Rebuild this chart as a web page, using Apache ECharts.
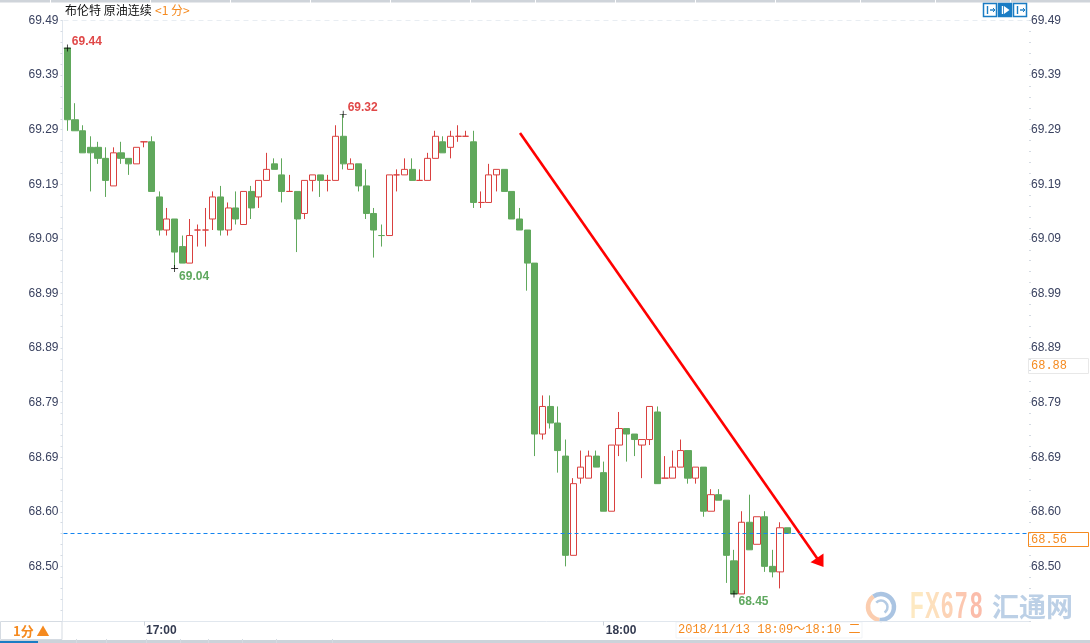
<!DOCTYPE html>
<html><head><meta charset="utf-8">
<style>html,body{margin:0;padding:0;background:#fff}#c{width:1090px;height:643px}</style>
<script src="https://cdn.jsdelivr.net/npm/echarts@6/dist/echarts.min.js"></script>
</head><body><div id="c"></div>
<script>
const opens=[69.44,69.31,69.29,69.26,69.26,69.24,69.19,69.25,69.24,69.23,69.27,69.27,69.17,69.11,69.13,69.08,69.05,69.11,69.11,69.13,69.17,69.11,69.15,69.12,69.18,69.17,69.20,69.23,69.21,69.18,69.18,69.14,69.20,69.21,69.20,69.20,69.28,69.22,69.23,69.19,69.14,69.10,69.10,69.21,69.21,69.22,69.20,69.20,69.24,69.27,69.26,69.28,69.28,69.27,69.16,69.16,69.21,69.22,69.18,69.13,69.11,69.05,68.74,68.79,68.76,68.70,68.52,68.66,68.66,68.70,68.67,68.60,68.72,68.75,68.74,68.72,68.73,68.78,68.66,68.66,68.68,68.71,68.66,68.68,68.60,68.63,68.62,68.51,68.45,68.58,68.54,68.59,68.50,68.49,68.57];
const closes=[69.31,69.29,69.25,69.25,69.24,69.20,69.25,69.24,69.23,69.26,69.27,69.18,69.11,69.13,69.07,69.05,69.10,69.11,69.11,69.17,69.11,69.15,69.13,69.18,69.15,69.20,69.22,69.22,69.18,69.18,69.13,69.20,69.21,69.20,69.20,69.28,69.23,69.23,69.19,69.14,69.11,69.10,69.21,69.21,69.22,69.20,69.20,69.24,69.28,69.25,69.28,69.28,69.28,69.16,69.16,69.21,69.22,69.18,69.13,69.11,69.05,68.74,68.79,68.76,68.71,68.52,68.65,68.68,68.70,68.68,68.60,68.72,68.75,68.74,68.73,68.73,68.79,68.65,68.66,68.68,68.71,68.66,68.68,68.60,68.63,68.62,68.52,68.45,68.58,68.53,68.59,68.50,68.49,68.57,68.56];
const lows=[69.29,69.29,69.25,69.18,69.23,69.17,69.19,69.23,69.21,69.23,69.26,69.18,69.10,69.10,69.04,69.05,69.05,69.08,69.08,69.11,69.10,69.10,69.12,69.12,69.13,69.15,69.20,69.22,69.16,69.18,69.07,69.13,69.18,69.17,69.18,69.20,69.22,69.22,69.18,69.13,69.06,69.08,69.10,69.18,69.21,69.20,69.20,69.20,69.24,69.25,69.24,69.27,69.28,69.15,69.15,69.16,69.18,69.18,69.13,69.11,69.00,68.70,68.73,68.75,68.67,68.50,68.52,68.65,68.66,68.68,68.60,68.60,68.70,68.69,68.70,68.66,68.72,68.65,68.66,68.66,68.68,68.65,68.65,68.59,68.60,68.62,68.47,68.45,68.45,68.53,68.54,68.49,68.48,68.46,68.56];
const highs=[69.44,69.34,69.30,69.28,69.27,69.26,69.26,69.27,69.24,69.26,69.27,69.28,69.18,69.15,69.13,69.10,69.13,69.12,69.15,69.18,69.19,69.16,69.18,69.18,69.19,69.20,69.25,69.24,69.24,69.21,69.18,69.20,69.21,69.21,69.21,69.30,69.32,69.24,69.23,69.22,69.15,69.12,69.21,69.22,69.24,69.24,69.22,69.25,69.29,69.28,69.29,69.30,69.29,69.29,69.18,69.23,69.22,69.22,69.18,69.15,69.11,69.05,68.81,68.81,68.79,68.73,68.66,68.71,68.71,68.71,68.69,68.72,68.78,68.75,68.74,68.73,68.79,68.79,68.70,68.71,68.73,68.71,68.68,68.68,68.64,68.64,68.62,68.53,68.60,68.63,68.59,68.60,68.53,68.58,68.57];

const timeLabels=['17:00','18:00'];
const timeIndex=[10,70];
const categoryCount=126;
const categories=Array.from({length:categoryCount},(_,i)=>{const k=timeIndex.indexOf(i);return k>=0?timeLabels[k]:String(i);});

const yTickValues=[69.49,69.391,69.292,69.193,69.094,68.995,68.896,68.797,68.698,68.599,68.50];
const yTickLabels=['69.49','69.39','69.29','69.19','69.09','68.99','68.89','68.79','68.69','68.60','68.50'];

const extremeIndex=[0,36,14,87];
const extremeValue=[69.44,69.32,69.04,68.45];
const extremeLabel=['69.44','69.32','69.04','68.45'];
const lastPrice=68.56, lastLabel='68.56';
const markedPrice=68.863, markedLabel='68.88';
const chartTitle='布伦特 原油连续', chartPeriod='<1 分>', periodTab='1分 ▲', rangeText='2018/11/13 18:09～18:10 二';

const RED='#d9403f',GREEN='#60a85c',ORANGE='#f58a1f',LABEL='#3a4260',AXIS='#e1e7ee';
const CJK='"Noto Sans CJK SC","Noto Sans",sans-serif';

const candleData=opens.map((o,i)=>{
  const v=[o,closes[i],lows[i],highs[i]];
  return (i===41)?{value:v,itemStyle:{borderColorDoji:GREEN}}:v;
});
// minor tick dots: five steps between labelled ticks, down to the axis floor
const dotValues=[];
for(let v=69.49;v>68.40;v-=0.0198)dotValues.push(+v.toFixed(4));

const cross='path://M4.5 0h1v4.5h4.5v1h-4.5v4.5h-1v-4.5h-4.5v-1h4.5z';
const markData=extremeIndex.map((x,i)=>({
  coord:[x,extremeValue[i]],
  value:extremeLabel[i],
  label:{color:i<2?'#e04848':'#5fa85f',offset:i<2?[19.5,-6.5]:[19.5,8]}
}));

function yAxisBase(pos){return{
  type:'value',position:pos,min:68.40,max:69.49,scale:true,
  axisLine:{show:pos==='left',onZero:false,lineStyle:{color:AXIS,width:1}},
  axisTick:{show:true,length:2,customValues:dotValues,lineStyle:{color:'#d5dbe3',width:1}},
  splitLine:{show:false},
  axisLabel:{customValues:yTickValues,margin:pos==='left'?4:2,padding:[2,0,0,0],color:LABEL,fontFamily:'Liberation Sans',fontSize:12,
    formatter:v=>yTickLabels[yTickValues.indexOf(+v)]||''},
  offset:pos==='left'?1:0
};}

const chart=echarts.init(document.getElementById('c'),null,{renderer:'canvas'});
chart.setOption({
  animation:false,backgroundColor:'#fff',
  grid:{left:63.5,right:61,top:20.5,height:601},
  xAxis:{type:'category',data:categories,boundaryGap:true,
    axisLine:{lineStyle:{color:AXIS}},
    axisTick:{show:true,length:4,alignWithLabel:true,interval:i=>timeIndex.includes(i),lineStyle:{color:'#ccd3db'}},
    axisLabel:{interval:i=>timeIndex.includes(i),align:'left',margin:2,padding:[0,0,0,2],fontFamily:'Liberation Sans',fontWeight:'bold',fontSize:12,color:'#333a50',lineHeight:14},
    splitLine:{show:false}},
  yAxis:[yAxisBase('left'),yAxisBase('right')],
  series:[{
    type:'candlestick',data:candleData,barWidth:6.6,silent:true,
    itemStyle:{color:'#fff',color0:GREEN,borderColor:RED,borderColor0:GREEN,borderColorDoji:RED,borderWidth:1},
    markPoint:{silent:true,symbol:cross,symbolSize:7,itemStyle:{color:'#000'},
      label:{show:true,position:'inside',fontFamily:'Liberation Sans',fontWeight:'bold',fontSize:12,formatter:p=>p.value},
      data:markData},
    markLine:{silent:true,symbol:'none',label:{show:false},data:[
      {yAxis:lastPrice,lineStyle:{color:'#1384f0',type:[4,3],width:1}},
      {yAxis:69.49,lineStyle:{color:'#e8edf2',type:[5,4],width:1}}
    ]}
  }],
  graphic:[]
});

const yPx=v=>chart.convertToPixel({yAxisIndex:0},v);
const yLast=yPx(lastPrice), yMark=yPx(markedPrice);
const ln=(x1,y1,x2,y2,c,w)=>({type:'line',shape:{x1,y1,x2,y2},style:{stroke:c,lineWidth:w||1}});
const tx=(x,y,t,f,c,extra)=>({type:'text',x,y,style:Object.assign({text:t,font:f,fill:c,verticalAlign:'middle'},extra||{})});
const sep=[];
[50,150,230,310,390,470,535,615,695,775,860,935,1010].forEach(x=>sep.push(ln(x+.5,0,x+.5,3,'#fff')));
const botSep=[76,106,146,180,208,242,276,332].map(x=>ln(x+.5,639,x+.5,643,'#d5dbe2'));

const icon=(x,filled)=>{const c='#1a7cc4',fg=filled?'#fff':c;return [
  {type:'rect',shape:{x:x+.5,y:3.5,width:13,height:13},style:{fill:filled?c:'#fff',stroke:c,lineWidth:1.5}},
  ln(x+4.5,6,x+4.5,14,fg,1.4),
  ...(filled?[{type:'polygon',shape:{points:[[x+6,6],[x+11.5,10],[x+6,14]]},style:{fill:fg}}]:[ln(x+7,10,x+12,10,fg,1.4),ln(x+10,8,x+12,10,fg),ln(x+10,12,x+12,10,fg)])
];};

const wmLetters=['F','X','6','7','8'];
const wmX=[910,925,941,955,970];
const wmC=['#fde9c2','#fde0bd','#fcd3b6','#fcc7b0','#fbbcaa'];
const wm=wmLetters.map((t,i)=>Object.assign(tx(wmX[i],608,t,'bold 36px "Liberation Sans"',wmC[i]),{scaleX:0.62}));

chart.setOption({graphic:[
  {type:'group',silent:true,children:[
    {type:'rect',shape:{x:0,y:0,width:1090,height:2.5},style:{fill:'#cfd4da'}},
    ...sep,
    tx(65,10,chartTitle,'12px '+CJK,'#111'),
    tx(155,10,chartPeriod,'12px '+CJK,ORANGE),
    ...icon(983,false),...icon(998,true),...icon(1013,false),

    // price flags on the right axis, placed through the y scale
    {type:'rect',shape:{x:1028.5,y:Math.round(yMark)-7.5,width:60,height:15},style:{fill:'#fff',stroke:'#e8e8e8',lineWidth:1}},
    tx(1031,yMark,markedLabel,'12px "Liberation Mono"',ORANGE),
    {type:'rect',shape:{x:1028.5,y:Math.round(yLast)-.5,width:60,height:14},style:{fill:'#fff',stroke:ORANGE,lineWidth:1}},
    tx(1031,yLast+7,lastLabel,'12px "Liberation Mono"',ORANGE),

    // hand-drawn arrow annotation
    ln(520,133,819,561,'#ff0000',2.6),
    {type:'polygon',shape:{points:[[823.5,567],[810.5,562.3],[823.5,553.5]]},style:{fill:'#ff0000'}},

    // watermark
    {type:'arc',shape:{cx:881,cy:607,r:13,startAngle:-2.2,endAngle:1.7},style:{stroke:'#aac4e2',fill:'none',lineWidth:4.5}},
    {type:'arc',shape:{cx:881,cy:607,r:13,startAngle:1.7,endAngle:4.08},style:{stroke:'#fbcdaf',fill:'none',lineWidth:4.5}},
    {type:'arc',shape:{cx:881,cy:607,r:6.5,startAngle:-2.4,endAngle:1},style:{stroke:'#b4cbe4',fill:'none',lineWidth:2.5}},
    ...wm,
    tx(992,607,'汇通网','bold 27px '+CJK,'#bcd0e6'),

    // bottom strip
    {type:'rect',shape:{x:.5,y:621.5,width:61.5,height:18},style:{fill:'#fff',stroke:'#d5dbe2',lineWidth:1}},
    tx(13,631,periodTab,'bold 13px '+CJK,ORANGE),
    {type:'rect',shape:{x:676,y:622,width:186,height:16},style:{fill:'#fff',stroke:'#f1f4f7',lineWidth:1}},
    tx(678,630,rangeText,'12px "Liberation Mono",'+CJK,ORANGE),
    {type:'rect',shape:{x:0,y:640,width:1090,height:3},style:{fill:'#ccd3da'}},
    ...botSep,
    {type:'rect',shape:{x:0,y:641,width:38,height:2},style:{fill:'#1a7cc4'}}
  ]}
]});
</script></body></html>
